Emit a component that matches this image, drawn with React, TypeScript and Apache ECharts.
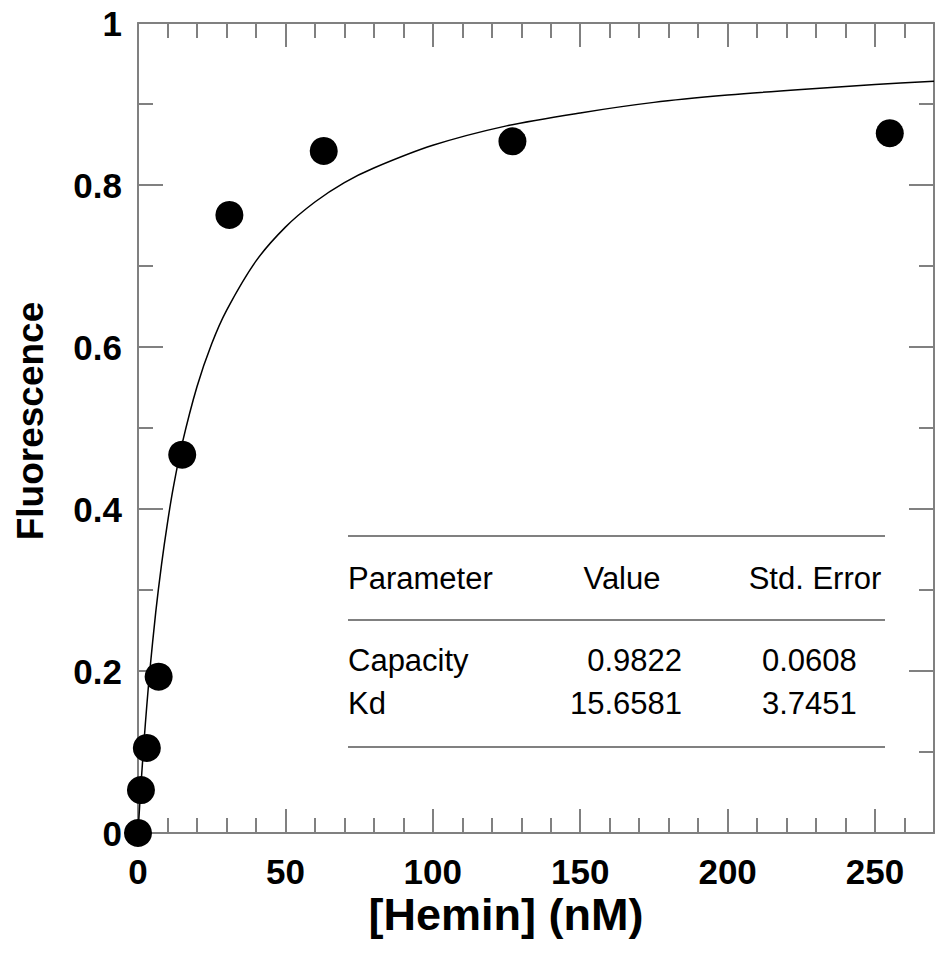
import React, { useEffect, useRef } from "react";
import * as echarts from "echarts";

// Measured data points
const hemin = [0, 1, 3, 7, 15, 31, 63, 127, 255];
const fluorescence = [0, 0.053, 0.105, 0.193, 0.467, 0.763, 0.842, 0.854, 0.864];

// Fitted curve
const fitX = [0, 0.5, 1, 2, 3, 4, 6, 8, 10, 12, 15, 20, 25, 30, 40, 50, 60, 70, 80, 100, 125, 150, 175, 200, 225, 250, 270];
const fitY = [0, 0.030, 0.059, 0.111, 0.158, 0.2, 0.272, 0.332, 0.383, 0.427, 0.481, 0.551, 0.604, 0.645, 0.706, 0.748, 0.779, 0.803, 0.821, 0.849, 0.873, 0.889, 0.902, 0.911, 0.918, 0.924, 0.928];

const tableHeader = ["Parameter", "Value", "Std. Error"];
const tableRows = [
  ["Capacity", "0.9822", "0.0608"],
  ["Kd", "15.6581", "3.7451"],
];

const xTitle = "[Hemin] (nM)";
const yTitle = "Fluorescence";

const AXIS_COLOR = "#808080";
const TEXT_FONT = "'Liberation Sans', Arial, sans-serif";

export default function App() {
  const ref = useRef<HTMLDivElement>(null);

  useEffect(() => {
    if (!ref.current) return;
    const chart = echarts.init(ref.current, undefined, { renderer: "svg" });
    const lineStyle = { color: AXIS_COLOR, width: 2 };
    const labelStyle = {
      color: "#000",
      fontFamily: TEXT_FONT,
      fontWeight: "bold" as const,
      fontSize: 35,
    };
    const majorX = (pos: "bottom" | "top", labels: boolean) => ({
      type: "value",
      position: pos,
      min: 0,
      max: 270,
      interval: 50,
      axisLine: { show: true, lineStyle, onZero: false },
      axisTick: { show: true, inside: true, length: 24, lineStyle },
      minorTick: { show: false },
      splitLine: { show: false },
      axisLabel: labels
        ? {
            ...labelStyle,
            margin: 21,
            formatter: (v: number) => (v % 50 === 0 ? String(v) : ""),
          }
        : { show: false },
    });
    const minorX = (pos: "bottom" | "top") => ({
      type: "value",
      position: pos,
      min: 0,
      max: 270,
      interval: 10,
      axisLine: { show: false, onZero: false },
      axisTick: { show: true, inside: true, length: 15, lineStyle },
      splitLine: { show: false },
      axisLabel: { show: false },
    });
    const yAx = (pos: "left" | "right", labels: boolean) => ({
      type: "value",
      position: pos,
      min: 0,
      max: 1,
      interval: 0.2,
      axisLine: { show: true, lineStyle, onZero: false },
      axisTick: { show: true, inside: true, length: 25, lineStyle },
      minorTick: { show: true, splitNumber: 2, length: 15, lineStyle },
      splitLine: { show: false },
      axisLabel: labels ? { ...labelStyle, margin: 16 } : { show: false },
    });

    const graphic: any[] = [];
    const lineYs = [536, 620, 747];
    lineYs.forEach((y) =>
      graphic.push({
        type: "line",
        shape: { x1: 348, y1: y, x2: 885, y2: y },
        style: { stroke: AXIS_COLOR, lineWidth: 2 },
        z: 10,
      })
    );
    const textStyle = { fill: "#000", fontFamily: TEXT_FONT, fontSize: 31 };
    graphic.push({ type: "text", x: 348, y: 578, style: { ...textStyle, text: tableHeader[0], align: "left", verticalAlign: "middle" }, z: 10 });
    graphic.push({ type: "text", x: 622, y: 578, style: { ...textStyle, text: tableHeader[1], align: "center", verticalAlign: "middle" }, z: 10 });
    graphic.push({ type: "text", x: 815, y: 578, style: { ...textStyle, text: tableHeader[2], align: "center", verticalAlign: "middle" }, z: 10 });
    const rowYs = [660, 703];
    tableRows.forEach((row, i) => {
      graphic.push({ type: "text", x: 348, y: rowYs[i], style: { ...textStyle, text: row[0], align: "left", verticalAlign: "middle" }, z: 10 });
      graphic.push({ type: "text", x: 682, y: rowYs[i], style: { ...textStyle, text: row[1], align: "right", verticalAlign: "middle" }, z: 10 });
      graphic.push({ type: "text", x: 762, y: rowYs[i], style: { ...textStyle, text: row[2], align: "left", verticalAlign: "middle" }, z: 10 });
    });
    graphic.push({
      type: "text",
      x: 506,
      y: 914,
      style: { text: xTitle, fill: "#000", fontFamily: TEXT_FONT, fontWeight: "bold", fontSize: 45, align: "center", verticalAlign: "middle" },
    });
    graphic.push({
      type: "text",
      x: 30,
      y: 421,
      rotation: Math.PI / 2,
      style: { text: yTitle, fill: "#000", fontFamily: TEXT_FONT, fontWeight: "bold", fontSize: 37, align: "center", verticalAlign: "middle" },
    });

    chart.setOption({
      animation: false,
      backgroundColor: "#fff",
      grid: { left: 138, right: -7, top: 23, bottom: 120, containLabel: false },
      xAxis: [majorX("bottom", true), minorX("bottom"), majorX("top", false), minorX("top")],
      yAxis: [yAx("left", true), yAx("right", false)],
      series: [
        {
          type: "line",
          data: fitX.map((x, i) => [x, fitY[i]]),
          showSymbol: false,
          symbol: "none",
          smooth: 0.3,
          lineStyle: { color: "#000", width: 1.5 },
          z: 2,
        },
        {
          type: "scatter",
          data: hemin.map((x, i) => [x, fluorescence[i]]),
          symbol: "circle",
          symbolSize: 28,
          itemStyle: { color: "#000", opacity: 1 },
          z: 3,
        },
      ],
      graphic,
    });
    return () => chart.dispose();
  }, []);

  return (
    <div
      ref={ref}
      style={{ position: "fixed", left: 0, top: 0, width: 937, height: 953, background: "#fff" }}
    />
  );
}
